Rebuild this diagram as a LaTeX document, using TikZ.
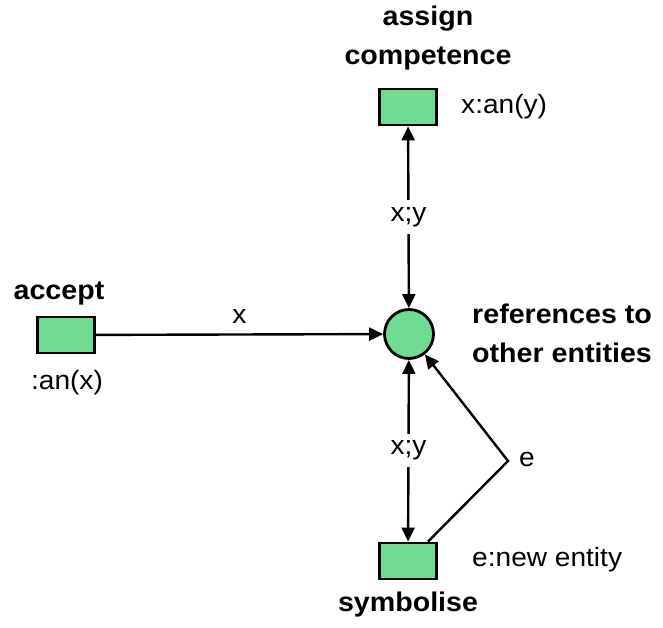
\documentclass[tikz,border=0pt]{standalone}
\usepackage{fontspec}
\setmainfont[FakeStretch=1.06]{Liberation Sans}
\usetikzlibrary{arrows.meta,positioning}
\definecolor{netgreen}{RGB}{112,219,146}
\begin{document}
\begin{tikzpicture}[x=1pt,y=1pt,line width=2.4pt,font=\fontsize{26.5}{31}\selectfont]
        \tikzstyle{trans}=[rectangle,draw=black,line width=2.8pt,fill=netgreen,minimum width=57pt,minimum height=36pt,inner sep=0pt]
        \tikzstyle{place}=[circle,draw=black,line width=2.8pt,fill=netgreen,minimum size=49pt,inner sep=0pt]
        \tikzstyle{edge}=[draw,line width=2.4pt,-{Triangle[length=14pt,width=13pt]}]
        \tikzstyle{both}=[draw,line width=2.4pt,{Triangle[length=14pt,width=13pt]}-{Triangle[length=14pt,width=13pt]}]
        \tikzstyle{title}=[font=\fontsize{27}{39}\selectfont\bfseries,inner sep=0pt]
        \tikzstyle{note}=[inner sep=0pt]
        \useasboundingbox (0,0) rectangle (663,628);
       \begin{scope}
         \node [place] (ref) at (409,294) {};
         \node [trans] (acc) at (66,293) {};
         \node [trans] (asg) at (408,521) {};
         \node [trans] (sym) at (408,67) {};
         \coordinate (bend) at (508,167);

         \node [title] (acct) at (59,334) {accept};
         \node [note] (accn) at (67,245) {:an(x)};
         \node [title,align=center] (asgt) at (428,590) {assign\\competence};
         \node [note,anchor=west] (asgn) at (460,521) {x:an(y)};
         \node [title,anchor=west,align=left] (reft) at (471,295) {references to\\other entities};
         \node [title] (symt) at (408,23) {symbolise};
         \node [note,anchor=west] (symn) at (471,68) {e:new entity};

         \path[edge] (acc) -- node[above=6pt] {x} (ref);
         \path[both] (asg) -- node[fill=white,inner sep=7pt] {x;y} (ref);
         \path[both] (ref) -- node[fill=white,inner sep=7pt] {x;y} (sym);
         \path[edge] ([xshift=20pt]sym.north) -- (bend) -- (ref);
         \node [note,anchor=west] (e) at (518,168) {e};
        \end{scope}
      \end{tikzpicture}
\end{document}
